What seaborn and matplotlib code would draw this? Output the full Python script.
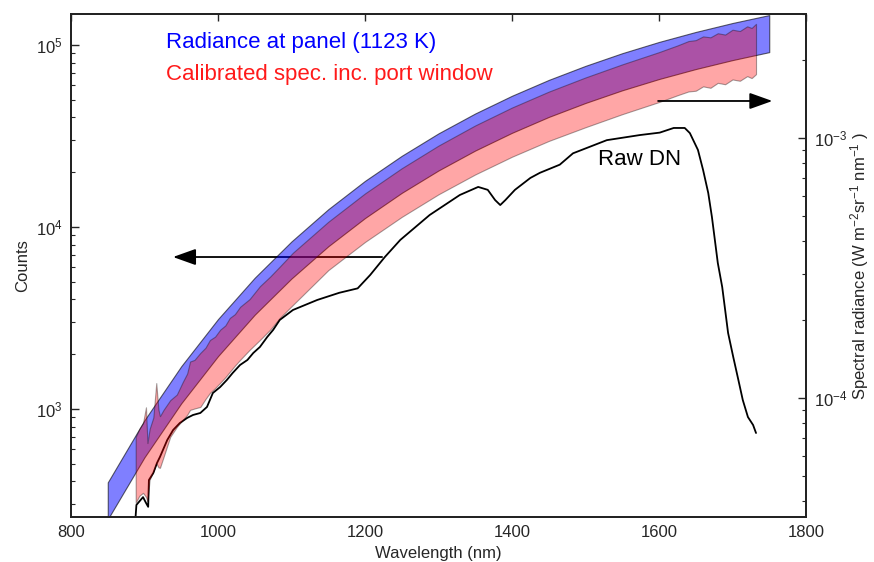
import matplotlib
matplotlib.use("Agg")
import matplotlib.pyplot as plt
import seaborn as sns

# blackbody band at the panel (right axis, W m-2 sr-1 nm-1)
blue_wl = [850, 900, 950, 1000, 1050, 1100, 1150, 1200, 1250, 1300,
           1350, 1400, 1450, 1500, 1550, 1600, 1650, 1700, 1750]
blue_hi = [4.73e-5, 8.21e-5, 1.324e-4, 2.01e-4, 2.90e-4, 4.00e-4, 5.32e-4, 6.84e-4, 8.54e-4, 1.042e-3,
           1.243e-3, 1.454e-3, 1.673e-3, 1.895e-3, 2.120e-3, 2.342e-3, 2.559e-3, 2.770e-3, 2.972e-3]
blue_lo = [3.41e-5, 5.91e-5, 9.53e-5, 1.447e-4, 2.09e-4, 2.88e-4, 3.83e-4, 4.92e-4, 6.15e-4, 7.50e-4,
           8.95e-4, 1.047e-3, 1.205e-3, 1.364e-3, 1.526e-3, 1.686e-3, 1.842e-3, 1.994e-3, 2.14e-3]

# calibrated spectrum band (right axis)
red_wl = [888, 893, 898, 902, 904, 907, 912, 916, 919, 921, 926, 935, 944, 952, 958, 962,
          968, 976, 983, 989, 996, 1003, 1010, 1016, 1023, 1030, 1043, 1057, 1071, 1084, 1102,
          1150, 1200, 1250, 1300, 1350, 1400, 1450, 1500, 1550, 1600, 1625, 1640, 1650, 1660,
          1670, 1680, 1690, 1700, 1710, 1720, 1726, 1732]
red_hi = [7.08e-5, 7.6e-5, 8.0e-5, 9.2e-5, 6.7e-5, 7.6e-5, 8.4e-5, 1.14e-4, 9.0e-5, 8.5e-5,
          9.0e-5, 9.8e-5, 1.03e-4, 1.15e-4, 1.24e-4, 1.38e-4, 1.40e-4, 1.49e-4, 1.56e-4, 1.67e-4,
          1.72e-4, 1.83e-4, 1.90e-4, 2.03e-4, 2.10e-4, 2.24e-4, 2.40e-4, 2.69e-4, 2.93e-4, 3.20e-4,
          3.62e-4, 4.76e-4, 6.12e-4, 7.65e-4, 9.35e-4, 1.118e-3, 1.310e-3, 1.508e-3, 1.71e-3,
          1.92e-3, 2.14e-3, 2.27e-3, 2.36e-3, 2.38e-3, 2.46e-3, 2.44e-3, 2.53e-3, 2.50e-3, 2.61e-3,
          2.58e-3, 2.69e-3, 2.65e-3, 2.75e-3]
red_lo = [3.95e-5, 4.2e-5, 4.31e-5, 4.16e-5, 4.0e-5, 4.84e-5, 5.2e-5, 5.6e-5, 5.4e-5, 5.38e-5,
          5.93e-5, 7.08e-5, 7.73e-5, 8.22e-5, 8.6e-5, 8.99e-5, 9.1e-5, 9.23e-5, 9.9e-5, 1.045e-4,
          1.09e-4, 1.143e-4, 1.20e-4, 1.259e-4, 1.33e-4, 1.40e-4, 1.53e-4, 1.67e-4, 1.83e-4, 2.03e-4,
          2.28e-4, 3.10e-4, 3.98e-4, 4.97e-4, 6.07e-4, 7.24e-4, 8.47e-4, 9.74e-4, 1.10e-3,
          1.235e-3, 1.375e-3, 1.46e-3, 1.51e-3, 1.52e-3, 1.58e-3, 1.56e-3, 1.63e-3, 1.61e-3, 1.68e-3,
          1.66e-3, 1.73e-3, 1.70e-3, 1.76e-3]

# raw detector counts (left axis)
dn_wl = [886, 889, 898, 902, 905, 906, 912, 917, 921, 931, 939, 948, 958, 966, 976, 985,
         993, 1003, 1012, 1020, 1030, 1040, 1048, 1057, 1067, 1075, 1084, 1102, 1135, 1165,
         1190, 1207, 1227, 1248, 1288, 1329, 1354, 1367, 1377, 1384, 1391, 1404, 1425, 1438,
         1465, 1483, 1529, 1574, 1601, 1620, 1635, 1642, 1653, 1660, 1667, 1672, 1676, 1680,
         1686, 1690, 1694, 1701, 1708, 1714, 1721, 1728, 1732]
dn_counts = [200, 297, 328, 305, 290, 407, 445, 505, 545, 676, 767, 837, 893, 927, 951, 1026,
             1224, 1321, 1443, 1578, 1745, 1859, 2031, 2191, 2487, 2719, 3085, 3500, 3972, 4350,
             4600, 5446, 6840, 8490, 11640, 14990, 16600, 16000, 14060, 13200, 14060, 16000, 18600, 19850,
             22000, 25400, 30000, 32000, 33000, 35000, 35000, 32800, 26500, 20560, 15380, 11350, 8490, 6345,
             4680, 3500, 2617, 1932, 1443, 1120, 903, 817, 738]

sns.set_style("white")
plt.rcParams['font.family'] = ['Liberation Sans', 'DejaVu Sans']
plt.rcParams['mathtext.fontset'] = 'custom'
plt.rcParams['mathtext.rm'] = 'Liberation Sans'
plt.rcParams['mathtext.it'] = 'Liberation Sans:italic'

fig = plt.figure(figsize=(8.74, 5.62), dpi=100)
ax = fig.add_axes([71/874, 1 - 517/562, 735/874, 503/562])
ax2 = ax.twinx()

sns.lineplot(x=dn_wl, y=dn_counts, ax=ax, color='k', lw=1.3, sort=False)
ax2.fill_between(blue_wl, blue_lo, blue_hi, facecolor=(0, 0, 1, 0.5),
                 edgecolor=(0, 0, 0, 0.6), lw=0.8)
ax2.fill_between(red_wl, red_lo, red_hi, facecolor=(1, 0, 0, 0.35),
                 edgecolor=(0, 0, 0, 0.35), lw=0.8)

ax.set_xlim(800, 1800)
ax.set_yscale('log')
ax.set_ylim(255, 1.48e5)
ax2.set_yscale('log')
ax2.set_ylim(3.48e-5, 3.0e-3)

ax.annotate('', xy=(935, 6840), xytext=(1227, 6840),
            arrowprops=dict(arrowstyle='-|>,head_length=0.7,head_width=0.25',
                            mutation_scale=20, color='k', lw=1.3))
ax2.annotate('', xy=(1758, 1.388e-3), xytext=(1595, 1.388e-3),
             arrowprops=dict(arrowstyle='-|>,head_length=0.7,head_width=0.25',
                             mutation_scale=20, color='k', lw=1.3))

ax.text(0.129, 0.944, 'Radiance at panel (1123 K)', color='#0000ff', fontsize=16,
        va='center', transform=ax.transAxes)
ax.text(0.129, 0.879, 'Calibrated spec. inc. port window', color='#ff1a1a', fontsize=16,
        va='center', transform=ax.transAxes)
ax.text(0.717, 0.710, 'Raw DN', color='k', fontsize=16, va='center', transform=ax.transAxes)

ax.set_xlabel('Wavelength (nm)', fontsize=12)
ax.set_ylabel('Counts', fontsize=12)
ax2.set_ylabel('Spectral radiance (W m$^{-2}$sr$^{-1}$ nm$^{-1}$ )', fontsize=12)
ax2.yaxis.set_label_coords(1.057, 0.5)

ax.set_xticks([800, 1000, 1200, 1400, 1600, 1800])
ax.tick_params(axis='x', which='both', direction='in', top=True, length=5, width=1, labelsize=12, pad=6)
ax.tick_params(axis='y', which='major', direction='in', length=6, width=1, labelsize=12, pad=6)
ax.tick_params(axis='y', which='minor', direction='in', length=3, width=0.8)
ax2.tick_params(axis='y', which='major', direction='in', length=6, width=1, labelsize=12, pad=6)
ax2.tick_params(axis='y', which='minor', direction='in', length=3, width=0.8)

for a in (ax, ax2):
    for s in a.spines.values():
        s.set_linewidth(1.3)
        s.set_color('#222222')

fig.savefig('out.png', dpi=100)
